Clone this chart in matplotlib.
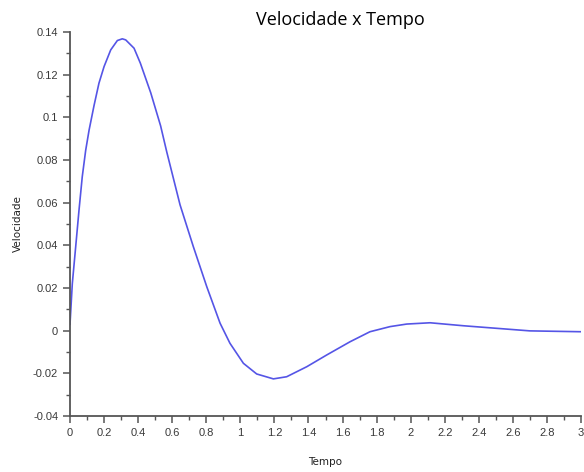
import numpy as np
import matplotlib
matplotlib.use('Agg')
import matplotlib.pyplot as plt
from matplotlib.ticker import MultipleLocator, FuncFormatter

# values
tempo = [0, 0.0135, 0.033, 0.053, 0.072, 0.092, 0.112, 0.141, 0.17, 0.2,
         0.239, 0.278, 0.307, 0.327, 0.376, 0.413, 0.474, 0.532, 0.568,
         0.646, 0.724, 0.803, 0.881, 0.939, 1.018, 1.096, 1.194, 1.272,
         1.39, 1.507, 1.644, 1.761, 1.879, 1.977, 2.114, 2.31, 2.505, 2.70,
         3.0]
velocidade = [0.003, 0.022, 0.039, 0.0566, 0.0722, 0.0845, 0.094, 0.1055,
              0.116, 0.1238, 0.1316, 0.136, 0.1368, 0.1363, 0.1324, 0.1254,
              0.1115, 0.096, 0.0838, 0.059, 0.0394, 0.0206, 0.0035, -0.0059,
              -0.0153, -0.0203, -0.0226, -0.0216, -0.0169, -0.0114, -0.0052,
              -0.0005, 0.0019, 0.0031, 0.0037, 0.0023, 0.0011, -0.0001,
              -0.0005]

fig = plt.figure(figsize=(5.84, 4.72), dpi=100)
ax = fig.add_axes([70/584, 1 - 416/472, 511/584, 384/472])

ax.plot(tempo, velocidade, color='#5555e6', lw=1.2)

ax.set_xlim(0, 3)
ax.set_ylim(-0.04, 0.14)

for s in ['top', 'right']:
    ax.spines[s].set_visible(False)
for s in ['left', 'bottom']:
    ax.spines[s].set_color('#555555')
    ax.spines[s].set_linewidth(1.3)

ax.xaxis.set_major_locator(MultipleLocator(0.2))
ax.xaxis.set_minor_locator(MultipleLocator(0.1))
ax.yaxis.set_major_locator(MultipleLocator(0.02))
ax.yaxis.set_minor_locator(MultipleLocator(0.01))
fmt = FuncFormatter(lambda v, p: '%g' % round(v, 2))
ax.xaxis.set_major_formatter(fmt)
ax.yaxis.set_major_formatter(fmt)

ax.tick_params(which='major', direction='out', length=5, width=1.1,
               color='#555555', labelcolor='#3a3a3a', labelsize=8)
ax.tick_params(which='minor', direction='out', length=3, width=1,
               color='#555555')
for lab in ax.get_xticklabels() + ax.get_yticklabels():
    lab.set_family('Liberation Sans')

ax.set_xlabel('Tempo', fontsize=7.5, color='#222222', labelpad=14)
ax.set_ylabel('Velocidade', fontsize=7.5, color='#222222', labelpad=7)

fig.text(340/584, 1 - 20/472, 'Velocidade x Tempo', ha='center', va='center',
         fontsize=13, family='Open Sans', color='black')

fig.savefig('out.png', dpi=100)
